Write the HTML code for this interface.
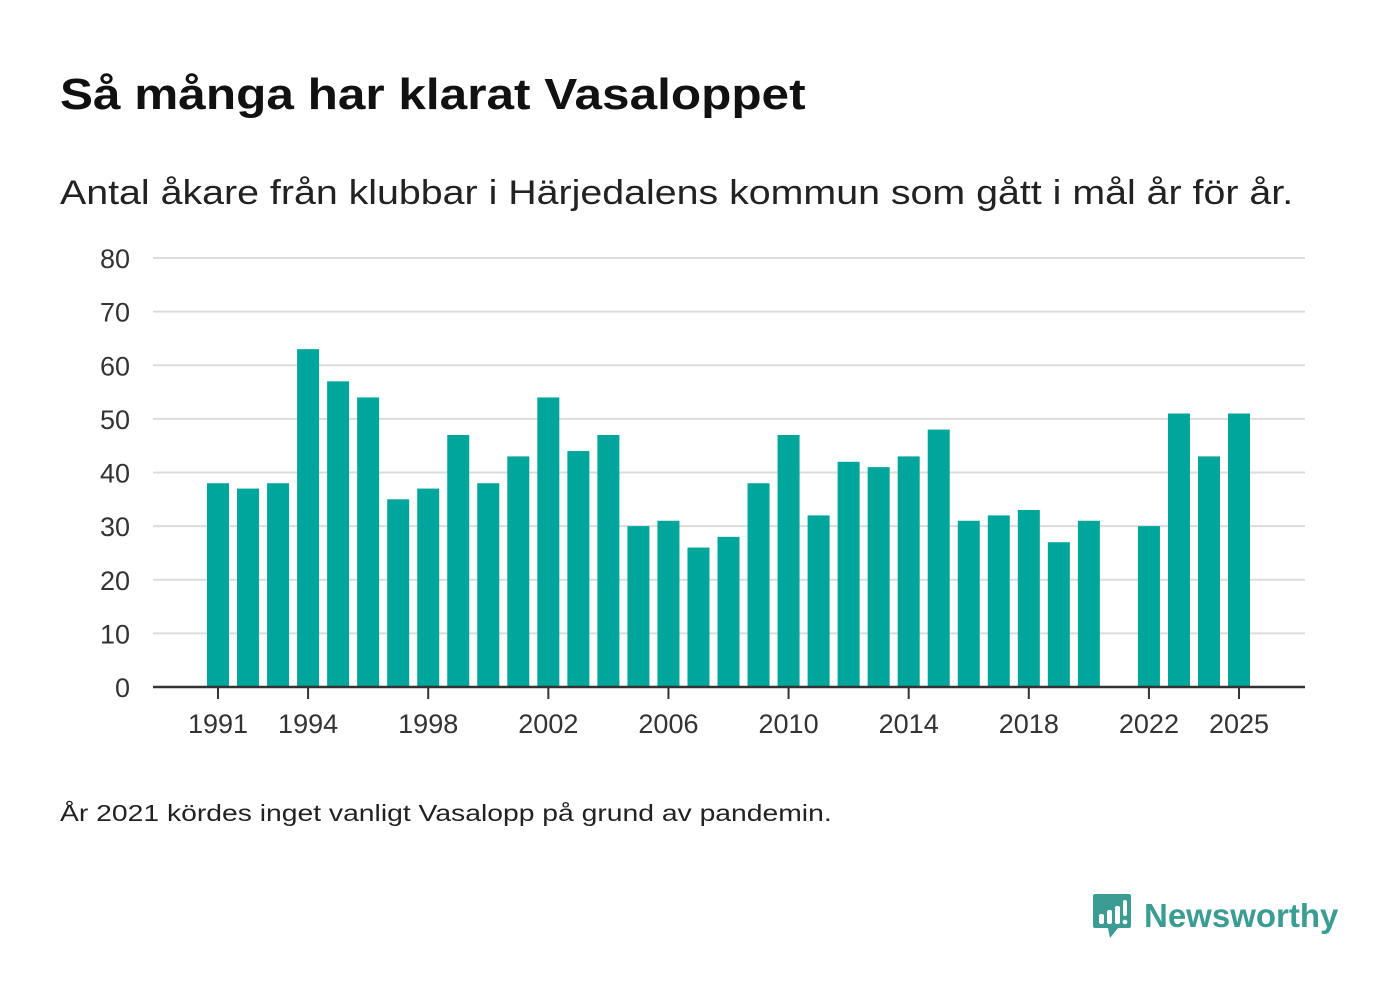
<!DOCTYPE html>
<html><head><meta charset="utf-8"><style>
body{margin:0;width:1400px;height:1000px;background:#fff;font-family:"Liberation Sans",sans-serif;overflow:hidden;position:relative}
.t{position:absolute;left:60px;color:#111;transform-origin:left center;white-space:nowrap}
</style></head><body>
<div class="t" style="top:70px;font-size:44px;font-weight:bold;transform:scaleX(1.125)">Så många har klarat Vasaloppet</div>
<div class="t" style="top:174px;font-size:34px;color:#222;transform:scaleX(1.157)">Antal åkare från klubbar i Härjedalens kommun som gått i mål år för år.</div>
<svg id="chart" width="1400" height="780" style="position:absolute;left:0;top:0"></svg>
<div class="t" style="top:800px;font-size:23px;color:#222;transform:scaleX(1.23)">År 2021 kördes inget vanligt Vasalopp på grund av pandemin.</div>
<div style="position:absolute;left:1092px;top:892px;display:flex;align-items:center">
<svg width="40" height="48" viewBox="0 0 40 48"><path d="M3 2h34a2 2 0 0 1 2 2v30a2 2 0 0 1-2 2H26l-8 10l-2-10H3a2 2 0 0 1-2-2V4a2 2 0 0 1 2-2z" fill="#3a9c92"/><rect x="7" y="22" width="5" height="10" rx="2" fill="#fff"/><rect x="15" y="18" width="5" height="14" rx="2" fill="#fff"/><rect x="23" y="14" width="5" height="18" rx="2" fill="#fff"/><rect x="31" y="8" width="4" height="16" rx="2" fill="#fff"/><circle cx="33" cy="30" r="2.3" fill="#fff"/></svg>
<span style="font-size:33px;font-weight:bold;color:#3a9c92;margin-left:12px">Newsworthy</span></div>
<script>
const years=[1991,1992,1993,1994,1995,1996,1997,1998,1999,2000,2001,2002,2003,2004,2005,2006,2007,2008,2009,2010,2011,2012,2013,2014,2015,2016,2017,2018,2019,2020,2021,2022,2023,2024,2025];
const values=[38,37,38,63,57,54,35,37,47,38,43,54,44,47,30,31,26,28,38,47,32,42,41,43,48,31,32,33,27,31,null,30,51,43,51];
const yTicks=[0,10,20,30,40,50,60,70,80];
const xTickYears=[1991,1994,1998,2002,2006,2010,2014,2018,2022,2025];
const svg=document.getElementById('chart');const NS='http://www.w3.org/2000/svg';
const x=yr=>218+(yr-1991)*30.03;
const y=v=>687-v*(687-258)/80;
function mk(t,a){const e=document.createElementNS(NS,t);for(const k in a)e.setAttribute(k,a[k]);svg.appendChild(e);return e;}
yTicks.forEach(v=>{
 if(v>0){const l=mk('line',{x1:153,x2:1305,y1:y(v),y2:y(v),stroke:'#dcdcdc','stroke-width':2});
 
 }
 const t=mk('text',{x:130,y:y(v)+10,'text-anchor':'end','font-size':27,fill:'#333','font-family':'Liberation Sans, sans-serif'});t.textContent=v;
 
 
});
years.forEach((yr,i)=>{if(values[i]==null)return;
 const r=mk('rect',{x:x(yr)-11,y:y(values[i]),width:22,height:687-y(values[i]),fill:'#00a59b'});
 
 
});
const ax=mk('line',{x1:153,x2:1305,y1:687,y2:687,stroke:'#333','stroke-width':2.5});


xTickYears.forEach(yr=>{
 const tk=mk('line',{x1:x(yr),x2:x(yr),y1:687,y2:699,stroke:'#333','stroke-width':2});
 
 
 const t=mk('text',{x:x(yr),y:733,'text-anchor':'middle','font-size':27,fill:'#333','font-family':'Liberation Sans, sans-serif'});t.textContent=yr;
 
 
});
</script>
</body></html>
